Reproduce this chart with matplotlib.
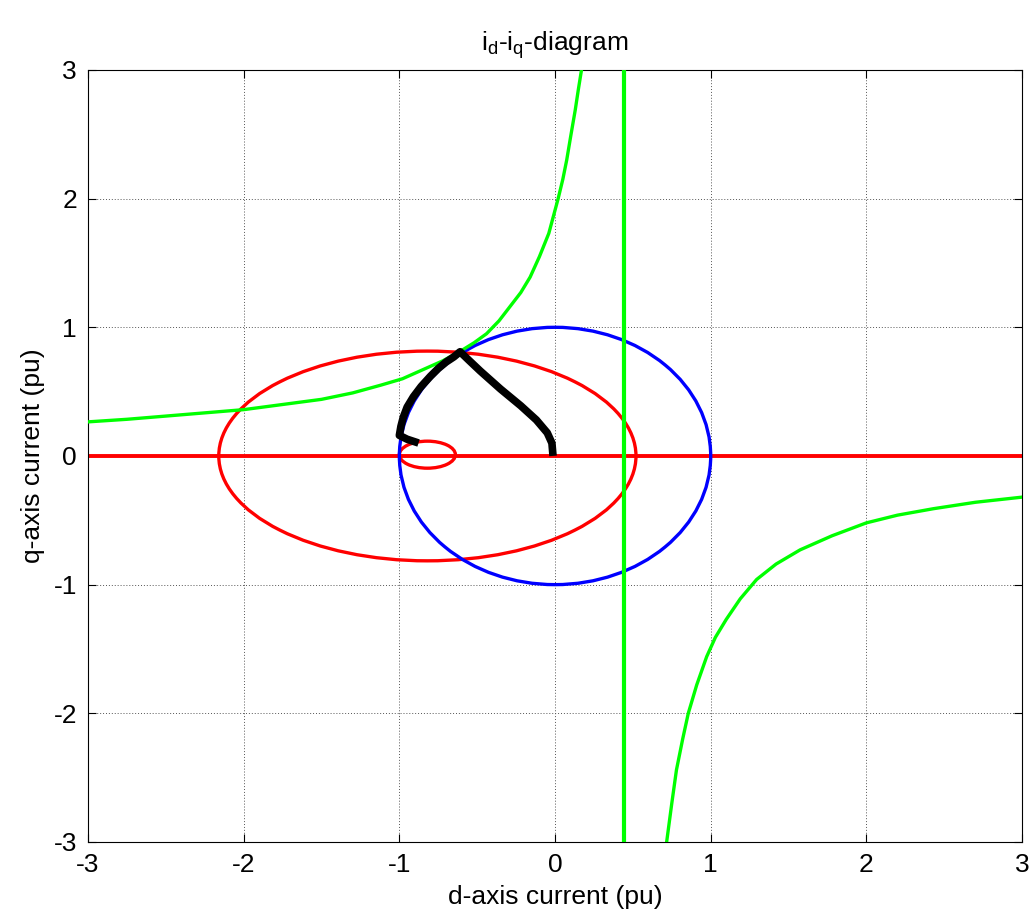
import numpy as np
import matplotlib.pyplot as plt
from matplotlib.patches import Ellipse, Circle

plt.rcParams['font.family'] = ['Liberation Sans', 'DejaVu Sans']
plt.rcParams['mathtext.default'] = 'regular'
plt.rcParams['axes.unicode_minus'] = False

# green constant-torque curve, left/upper branch
tq1_id = [-3.0, -2.75, -2.5, -2.25, -2.0, -1.75, -1.5, -1.3, -1.12, -0.98, -0.85, -0.72,
          -0.6, -0.52, -0.44, -0.36, -0.29, -0.22, -0.16, -0.10, -0.04, 0.02, 0.05,
          0.075, 0.10, 0.13, 0.15, 0.17]
tq1_iq = [0.265, 0.285, 0.31, 0.335, 0.36, 0.40, 0.44, 0.49, 0.55, 0.60, 0.67, 0.74,
          0.82, 0.88, 0.95, 1.05, 1.16, 1.27, 1.39, 1.55, 1.73, 2.0, 2.15,
          2.3, 2.48, 2.69, 2.85, 3.0]
# green curve, lower right branch
tq2_id = [0.717, 0.75, 0.78, 0.82, 0.856, 0.91, 0.974, 1.03, 1.10, 1.19, 1.295, 1.42,
          1.574, 1.78, 2.0, 2.2, 2.43, 2.7, 3.0]
tq2_iq = [-3.0, -2.7, -2.44, -2.2, -2.0, -1.78, -1.56, -1.41, -1.27, -1.11, -0.96, -0.84,
          -0.73, -0.62, -0.52, -0.46, -0.41, -0.36, -0.32]
# green vertical asymptote
asym_id = 0.44

# black operating trajectory
traj_id = [-0.90, -0.95, -1.0, -0.99, -0.975, -0.95, -0.91, -0.86, -0.80, -0.75, -0.70,
           -0.65, -0.61, -0.55, -0.48, -0.35, -0.22, -0.12, -0.05, -0.02, -0.015]
traj_iq = [0.11, 0.13, 0.16, 0.23, 0.30, 0.38, 0.46, 0.54, 0.62, 0.68, 0.73,
           0.77, 0.81, 0.74, 0.66, 0.52, 0.39, 0.28, 0.18, 0.10, 0.03]

# current limit circle (blue)
circ_c = (0.0, 0.0)
circ_r = 1.0
# voltage limit ellipses (red): centre, width, height
ell_big = ((-0.82, 0.0), 2.68, 1.63)
ell_small = ((-0.82, 0.01), 0.36, 0.21)

fig = plt.figure(figsize=(10.33, 9.23), dpi=100)
ax = fig.add_axes([0.0852, 0.0878, 0.9042, 0.8364])

ax.axhline(0, color='#ff0000', lw=2.8, zorder=2)
for (c, w, h) in [ell_big, ell_small]:
    ax.add_patch(Ellipse(c, w, h, fill=False, ec='#ff0000', lw=2.4, zorder=2))
ax.add_patch(Circle(circ_c, circ_r, fill=False, ec='#0000ff', lw=2.4, zorder=3))
ax.plot(tq1_id, tq1_iq, color='#00ff00', lw=2.4, zorder=3)
ax.plot(tq2_id, tq2_iq, color='#00ff00', lw=2.4, zorder=3)
ax.axvline(asym_id, color='#00ff00', lw=3.0, zorder=3)
ax.plot(traj_id, traj_iq, color='black', lw=5.5, solid_joinstyle='round', zorder=4)

ax.set_xlim(-3, 3)
ax.set_ylim(-3, 3)
ax.set_xticks(np.arange(-3, 4, 1))
ax.set_yticks(np.arange(-3, 4, 1))
ax.grid(True, color='#555555', ls=(0, (1, 2)), lw=0.7)
ax.tick_params(direction='in', top=True, right=True, labelsize=19, length=6, pad=8)
for s in ax.spines.values():
    s.set_linewidth(0.8)

ax.set_xlabel('d-axis current (pu)', fontsize=19, labelpad=6)
ax.set_ylabel('q-axis current (pu)', fontsize=19, labelpad=6)
ax.set_title('i$_d$-i$_q$-diagram', fontsize=19, pad=14)

fig.savefig('out.png', dpi=100)
